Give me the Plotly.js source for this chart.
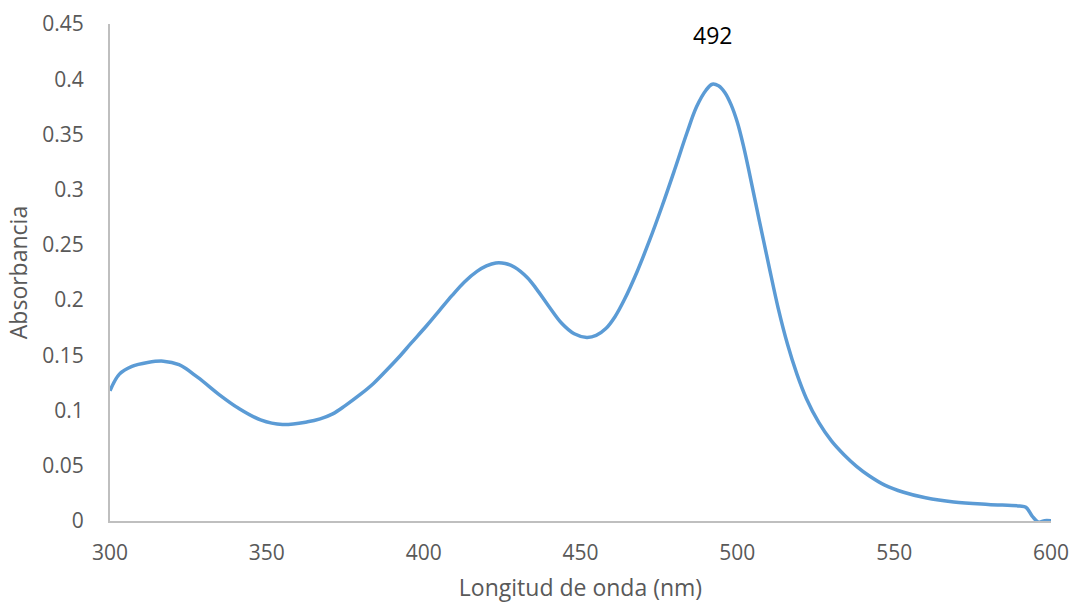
<!DOCTYPE html>
<html>
<head>
<meta charset="utf-8">
<script src="https://cdn.plot.ly/plotly-3.0.1.min.js"></script>
<style>html,body{margin:0;padding:0;background:#fff;}#chart{width:1074px;height:603px;}</style>
</head>
<body>
<div id="chart"></div>
<script>
const wavelength = [300,303,307,312,317,322,328,335,341,348,355,363,367,371,375,380,384,388,392,396,401,405,409,413,417,420,423,426,429,433,436,440,444,448,452,455,458,461,464,468,472,476,480,484,487,490,492,494,496,498,500,502,504,507,510,513,516,519,522,526,530,534,538,542,547,553,560,569,580,590,592,594,596,598,600];
const absorbance = [0.118,0.133,0.140,0.1435,0.1447,0.1415,0.130,0.114,0.102,0.0915,0.0873,0.0898,0.0925,0.097,0.1045,0.115,0.1245,0.136,0.148,0.161,0.177,0.1905,0.204,0.2165,0.226,0.231,0.2337,0.2332,0.2298,0.2205,0.210,0.194,0.179,0.1695,0.1662,0.168,0.174,0.185,0.2005,0.2255,0.254,0.285,0.318,0.352,0.375,0.390,0.3955,0.394,0.388,0.377,0.361,0.339,0.313,0.272,0.232,0.193,0.160,0.133,0.111,0.089,0.0725,0.060,0.0495,0.041,0.0325,0.026,0.021,0.0172,0.0150,0.0136,0.0125,0.0045,-0.001,0.0003,0.0002];
const yTickVals = [0,0.05,0.1,0.15,0.2,0.25,0.3,0.35,0.4,0.45];
const yTickText = ["0","0.05","0.1","0.15","0.2","0.25","0.3","0.35","0.4","0.45"];
const xTickVals = [300,350,400,450,500,550,600];
const peakLabel = {x: 492, y: 0.44, text: "492"};

const font = "Open Sans, Liberation Sans, sans-serif";
Plotly.newPlot('chart', [{
  x: wavelength, y: absorbance, type: 'scatter', mode: 'lines',
  line: {color: '#5B9BD5', width: 3.5, shape: 'spline', smoothing: 1},
  hoverinfo: 'skip'
}], {
  width: 1074, height: 603,
  margin: {l: 110, r: 23, t: 24, b: 82},
  paper_bgcolor: '#fff', plot_bgcolor: '#fff',
  showlegend: false,
  font: {family: font, size: 21, color: '#595959'},
  xaxis: {
    range: [300, 600], tickvals: xTickVals, showgrid: false, zeroline: false,
    showline: true, linecolor: '#BFBFBF', linewidth: 2, ticks: '',
    ticklabelstandoff: 12,
    tickfont: {family: font, size: 21, color: '#595959'},
    title: {text: 'Longitud de onda (nm)', font: {family: font, size: 23, color: '#595959'}, standoff: 16}
  },
  yaxis: {
    range: [0, 0.45], tickvals: yTickVals, ticktext: yTickText, showgrid: false, zeroline: false,
    showline: true, linecolor: '#BFBFBF', linewidth: 2, ticks: '',
    ticklabelstandoff: 20,
    tickfont: {family: font, size: 21, color: '#595959'},
    title: {text: 'Absorbancia', font: {family: font, size: 23, color: '#595959'}, standoff: 8}
  },
  annotations: [{
    x: peakLabel.x, y: peakLabel.y, xref: 'x', yref: 'y', text: peakLabel.text,
    showarrow: false, font: {family: font, size: 23, color: '#000'}
  }]
}, {staticPlot: true});
</script>
</body>
</html>
